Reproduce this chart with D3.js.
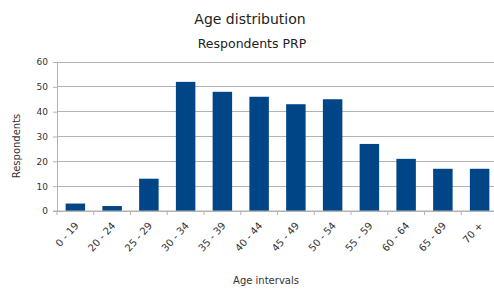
<!DOCTYPE html>
<html><head><meta charset="utf-8">
<script src="https://cdn.jsdelivr.net/npm/d3@7"></script>
<style>body{margin:0;background:#fff}svg{display:block}text{font-family:"DejaVu Sans",sans-serif}</style>
</head><body>
<script>
const categories = ["0 - 19","20 - 24","25 - 29","30 - 34","35 - 39","40 - 44","45 - 49","50 - 54","55 - 59","60 - 64","65 - 69","70 +"];
const values = [3,2,13,52,48,46,43,45,27,21,17,17];
const yTicks = [0,10,20,30,40,50,60];

const W=494,H=289;
const svg=d3.select("body").append("svg").attr("width",W).attr("height",H);
const x=d3.scaleBand().domain(categories).range([57,498]).paddingInner(0.47).paddingOuter(0.235);
const y=d3.scaleLinear().domain([0,60]).range([211,62]);

svg.append("g").selectAll("line").data(yTicks).join("line")
  .attr("x1",57).attr("x2",W).attr("y1",d=>y(d)).attr("y2",d=>y(d))
  .attr("stroke","#b3b3b3").attr("stroke-width",1).attr("shape-rendering","crispEdges");

svg.append("g").selectAll("rect").data(values).join("rect")
  .attr("x",(d,i)=>x(categories[i])).attr("width",x.bandwidth())
  .attr("y",d=>y(d)).attr("height",d=>y(0)-y(d)).attr("fill","#004586");

const ya=svg.append("g").attr("transform","translate(57,0)")
  .call(d3.axisLeft(y).tickValues(yTicks).tickSize(4).tickPadding(5));
ya.select(".domain").attr("stroke","#b3b3b3");
ya.selectAll(".tick line").attr("stroke","#b3b3b3");
ya.selectAll("text").attr("font-size",9).attr("fill","#333").attr("font-family","DejaVu Sans, sans-serif");

const xa=svg.append("g").attr("transform","translate(0,211)");
xa.append("line").attr("x1",53).attr("x2",W).attr("y1",0).attr("y2",0).attr("stroke","#b3b3b3");
const step=x.step();
xa.selectAll("line.t").data(d3.range(categories.length+1)).join("line").attr("class","t")
  .attr("x1",i=>57+i*step).attr("x2",i=>57+i*step).attr("y1",0).attr("y2",4).attr("stroke","#b3b3b3");
xa.selectAll("text").data(categories).join("text")
  .attr("transform",d=>`translate(${x(d)+x.bandwidth()/2+4},${15}) rotate(-48)`)
  .attr("text-anchor","end").attr("font-size",10).attr("fill","#333").text(d=>d);

svg.append("text").attr("x",250).attr("y",24).attr("text-anchor","middle").attr("font-size",14).attr("fill","#222").text("Age distribution");
svg.append("text").attr("x",252).attr("y",48).attr("text-anchor","middle").attr("font-size",12.5).attr("fill","#222").text("Respondents PRP");
svg.append("text").attr("transform","translate(20,146) rotate(-90)").attr("text-anchor","middle").attr("font-size",10).attr("fill","#333").text("Respondents");
svg.append("text").attr("x",266).attr("y",284).attr("text-anchor","middle").attr("font-size",10).attr("fill","#333").text("Age intervals");
</script>
</body></html>
